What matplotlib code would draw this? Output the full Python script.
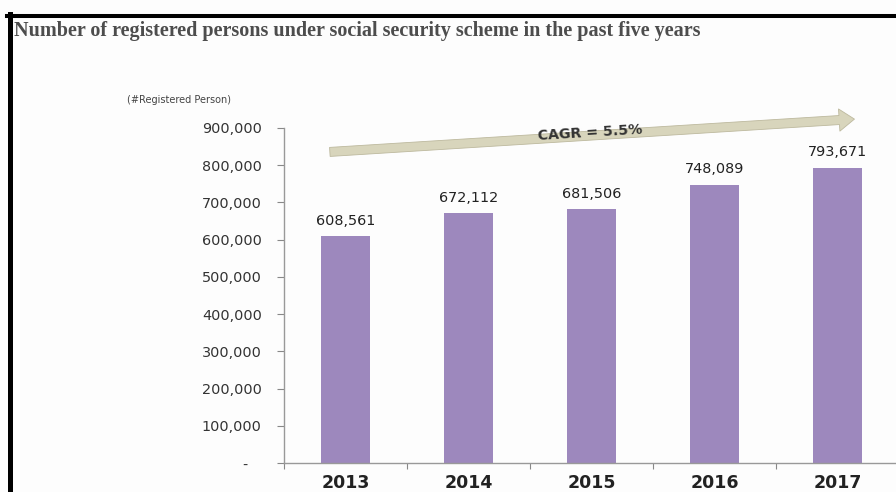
import matplotlib.pyplot as plt
from matplotlib.ticker import FuncFormatter, FixedLocator

# data
years = ["2013", "2014", "2015", "2016", "2017"]
persons = [608561, 672112, 681506, 748089, 793671]
y_ticks = [0, 100000, 200000, 300000, 400000, 500000, 600000, 700000, 800000, 900000]
cagr_label = "CAGR = 5.5%"

fig = plt.figure(figsize=(8.96, 4.92), dpi=100)
fig.patch.set_facecolor("#fdfdfd")

# axes placed to match the reference layout
ax = fig.add_axes([0.317, 0.0589, 0.6864, 0.681])
ax.set_facecolor("#fdfdfd")

x = range(len(years))
ax.bar(x, persons, width=0.4, color="#9d88bd", zorder=2)

ax.set_xlim(-0.5, len(years) - 0.5)
ax.set_ylim(0, 900000)

# value labels above bars
for i, v in enumerate(persons):
    ax.annotate(f"{v:,}", (i, v), xytext=(0, 11), textcoords="offset points",
                ha="center", va="center", fontsize=10.4, color="#222222")

# y axis in accounting style: zero shown as a dash
ax.set_yticks(y_ticks)
ax.yaxis.set_major_formatter(FuncFormatter(lambda v, p: "-   " if v == 0 else f"{int(v):,}"))
ax.tick_params(axis="y", length=5, width=0.8, color="#888888", pad=11,
               labelsize=10.4, labelcolor="#333333")

# x axis: labels centred on bars, tick marks between categories
ax.set_xticks(list(x))
ax.set_xticklabels(years, fontsize=12.5, fontweight="bold", color="#222222")
ax.xaxis.set_minor_locator(FixedLocator([i + 0.5 for i in range(-1, len(years))]))
ax.tick_params(axis="x", which="major", length=0, pad=8)
ax.tick_params(axis="x", which="minor", length=4, width=0.8, color="#888888")

for side in ["top", "right"]:
    ax.spines[side].set_visible(False)
for side in ["left", "bottom"]:
    ax.spines[side].set_color("#999999")
    ax.spines[side].set_linewidth(1.0)

# growth arrow with CAGR note
ax.annotate("", xy=(0.932, 1.027), xytext=(0.070, 0.928), xycoords="axes fraction",
            arrowprops=dict(arrowstyle="simple,head_width=1.6,head_length=1.1,tail_width=0.65",
                            fc="#d8d5bc", ec="#bdb99e", lw=0.6),
            annotation_clip=False, zorder=3)
ax.text(0.498, 0.985, cagr_label, transform=ax.transAxes, rotation=3.5,
        ha="center", va="center", fontsize=10.2, fontweight="bold", color="#333333", zorder=4)

ax.text(-0.171, 1.084, "(#Registered Person)", transform=ax.transAxes,
        ha="center", va="center", fontsize=7, color="#444444")

# title and frame lines
fig.text(0.016, 1 - 31 / 492,
         "Number of registered persons under social security scheme in the past five years",
         family="Liberation Serif", fontweight="bold", fontsize=14.5, color="#4d4d4d",
         ha="left", va="center")
fig.add_artist(plt.Line2D([9.5 / 896, 9.5 / 896], [0, 1 - 14 / 492], color="black", lw=3.6))
fig.add_artist(plt.Line2D([7 / 896, 1], [1 - 16 / 492, 1 - 16 / 492], color="black", lw=2.9))

fig.savefig("out.png", dpi=100, facecolor=fig.get_facecolor())
